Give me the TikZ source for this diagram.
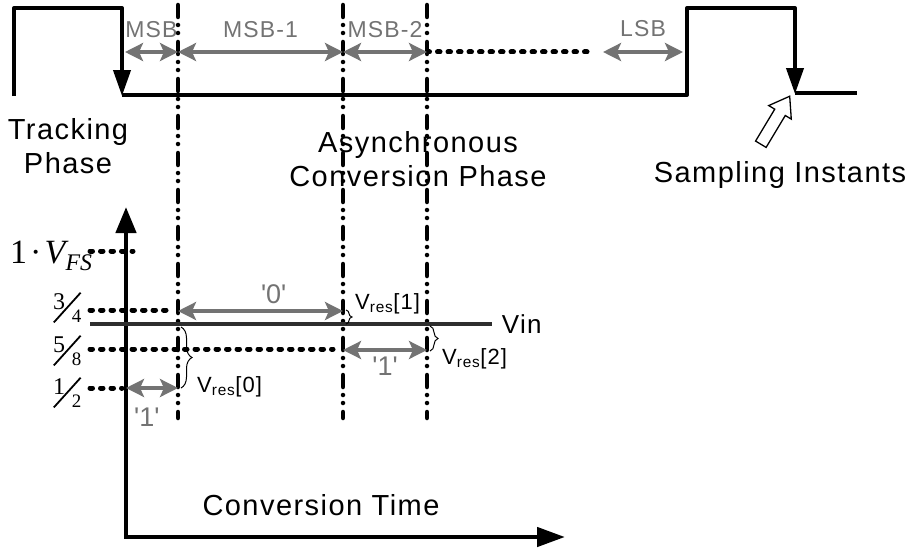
\documentclass[tikz,border=0pt]{standalone}
\usepackage{fontspec}
\setmainfont{Liberation Sans}[LetterSpace=5]
\newfontfamily\serifrm{Liberation Serif}
\usepackage{tikz}
\usetikzlibrary{arrows.meta,positioning,decorations.pathreplacing,shapes.arrows}
\definecolor{bitgray}{HTML}{737373}
\definecolor{vingray}{HTML}{2E2E2E}
\newcommand{\levelfrac}[2]{%
  \rlap{\raisebox{14pt}{\fontsize{24}{24}\selectfont#1}}%
  \rotatebox{48}{\rule{40pt}{1.8pt}}%
  \llap{\raisebox{1pt}{\fontsize{19}{19}\selectfont#2}}}
\newcommand{\bitval}[1]{\textquotesingle#1\textquotesingle}
\tikzset{
  wave/.style={line width=4pt,line join=round},
  edgetip/.style={-{Triangle[length=26pt,width=17pt]}},
  bitline/.style={line width=4.5pt,line cap=round,dash pattern=on 12pt off 8pt on 0pt off 8pt on 0pt off 9pt},
  levelline/.style={line width=5pt,line cap=round,dash pattern=on 2.5pt off 8pt},
  bitarrow/.style={{Stealth[length=18pt,width=18pt,inset=4pt]}-{Stealth[length=18pt,width=18pt,inset=4pt]},draw=bitgray,fill=bitgray,line width=4pt},
  bitlabel/.style={text=bitgray,font=\fontsize{23}{26}\selectfont},
  bitvalue/.style={text=bitgray,font=\fontsize{27}{30}\selectfont},
  axis/.style={line width=4.5pt,{Triangle[length=26pt,width=20pt]}-{Triangle[length=28pt,width=19pt]}},
  resbrace/.style={decorate,line width=1pt},
  reslabel/.style={font=\fontsize{22}{24}\selectfont,inner sep=0pt,anchor=base west},
  phaselabel/.style={align=center,font=\fontsize{29}{34}\selectfont},
}
\begin{document}
\begin{tikzpicture}[x=1pt,y=-1pt]
    \useasboundingbox (0,0) rectangle (912,551);
    % sampling clock
    \draw[wave] (14,96) -- (14,8) -- (122,8) -- (122,60);
    \draw[wave,edgetip] (122,60) -- (122,96);
    \draw[wave] (122,95) -- (687,95) -- (687,8) -- (795,8) -- (795,60);
    \draw[wave,edgetip] (795,60) -- (795,94);
    \draw[wave] (795,93) -- (857,93);
    % bit decisions
    \foreach \bx in {178,343,427}{\draw[bitline] (\bx,5) -- (\bx,418);}
    \coordinate (c0) at (125,52); \coordinate (c1) at (178,52);
    \coordinate (c2) at (343,52); \coordinate (c3) at (427,52);
    \coordinate (c4) at (603,52); \coordinate (c5) at (683,52);
    \draw[levelline] (c3) -- (588,52);
    \draw[bitarrow] (c0) -- (c1) node[bitlabel,midway,above=9pt] (msb) {MSB};
    \draw[bitarrow] (c1) -- (c2) node[bitlabel,midway,above=9pt] (msb1) {MSB-1};
    \draw[bitarrow] (c2) -- (c3) node[bitlabel,midway,above=9pt] (msb2) {MSB-2};
    \draw[bitarrow] (c4) -- (c5) node[bitlabel,midway,above=10pt] (lsb) {LSB};
    \node[phaselabel] (track) at (68,146) {Tracking\\Phase};
    \node[phaselabel] (async) at (418,159) {Asynchronous\\Conversion Phase};
    \node[phaselabel] (samp) at (780,175) {Sampling Instants};
    \node[draw,fill=white,line width=1.3pt,single arrow,minimum height=56pt,inner sep=5.5pt,
          single arrow head extend=7pt,single arrow tip angle=70,rotate=59] (hollow) at (773,124) {};
    % residue search
    \coordinate (origin) at (126,537);
    \coordinate (ytip) at (126,207);
    \coordinate (xtip) at (565,537);
    \draw[levelline] (90,251) -- (133,251);
    \draw[levelline] (90,310) -- (168,310);
    \draw[levelline] (90,349) -- (333,349);
    \draw[levelline] (90,388) -- (122,388);
    \draw[axis] (ytip) -- (origin) -- (xtip);
    \draw[vingray,line width=3.2pt] (90,324) -- (492,324) node[right=5pt,font=\fontsize{26}{28}\selectfont,text=black] (vin) {Vin};
    \node[anchor=base west,inner sep=0pt,font=\serifrm\fontsize{34}{34}\selectfont] (vfs) at (10,263)
        {1\kern3pt·\kern3pt\textit{V}\kern-3pt\textsubscript{\textit{FS}}};
    \node[anchor=base west,inner sep=0pt,font=\serifrm] (f34) at (53,323) {\levelfrac{3}{4}};
    \node[anchor=base west,inner sep=0pt,font=\serifrm] (f58) at (53,366) {\levelfrac{5}{8}};
    \node[anchor=base west,inner sep=0pt,font=\serifrm] (f12) at (53,408) {\levelfrac{1}{2}};
    \coordinate (d0) at (126,388); \coordinate (d1) at (178,388);
    \coordinate (e0) at (178,311); \coordinate (e1) at (343,311);
    \coordinate (g0) at (343,350); \coordinate (g1) at (427,350);
    \draw[bitarrow] (d0) -- (d1) node[bitvalue,pos=0.4,below=15pt] (one0) {\bitval{1}};
    \draw[bitarrow] (e0) -- (e1) node[bitvalue,pos=0.58,above=2pt] (zero1) {\bitval{0}};
    \draw[bitarrow] (g0) -- (g1) node[bitvalue,midway,below=2pt] (one2) {\bitval{1}};
    \draw[resbrace,decoration={brace,amplitude=11pt}] (181,327) -- (181,388);
    \draw[resbrace,decoration={brace,amplitude=6pt}] (346,310) -- (346,324);
    \draw[resbrace,decoration={brace,amplitude=8pt}] (430,326) -- (430,351);
    \node[reslabel] (res0) at (197,392) {V\textsubscript{res}[0]};
    \node[reslabel] (res1) at (355,309) {V\textsubscript{res}[1]};
    \node[reslabel] (res2) at (442,364) {V\textsubscript{res}[2]};
    \node[phaselabel] (ctime) at (321,505) {Conversion Time};
  \end{tikzpicture}
\end{document}
